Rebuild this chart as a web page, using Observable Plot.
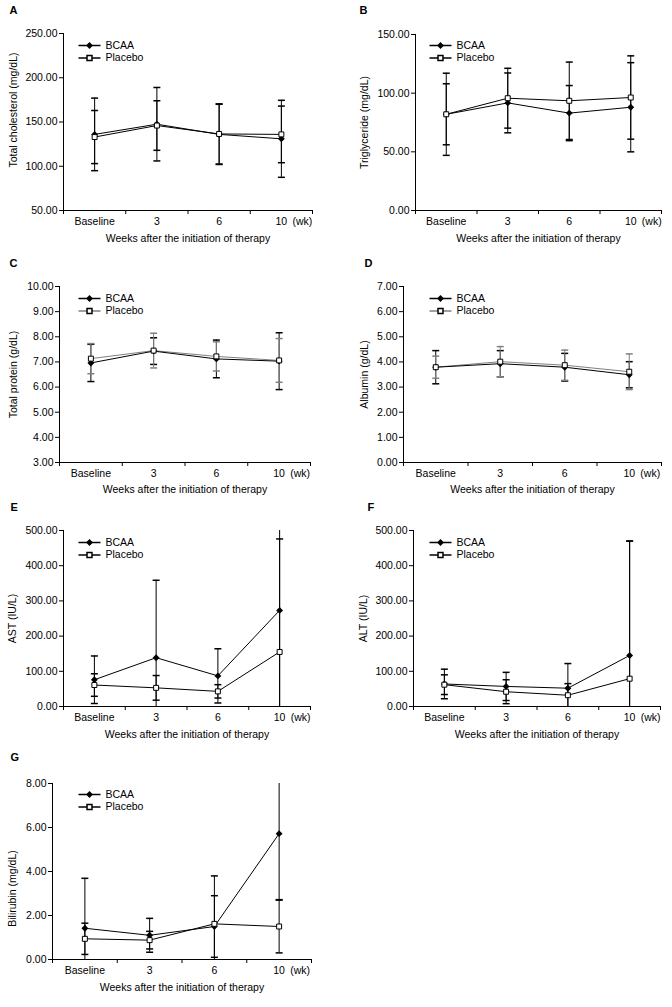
<!DOCTYPE html>
<html>
<head>
<meta charset="utf-8">
<script src="https://cdn.jsdelivr.net/npm/d3@7"></script>
<script src="https://cdn.jsdelivr.net/npm/@observablehq/plot@0.6"></script>
<style>
  html, body { margin: 0; padding: 0; background: #fff; }
  #chart { position: relative; width: 672px; height: 1007px; background: #fff; overflow: hidden; }
  #chart svg { position: absolute; }
</style>
</head>
<body>
<div id="chart"></div>
<script>
// ---------- data ----------
const weeks = ["Baseline", "3", "6", "10"];
const weekUnit = "(wk)";
const xTitle = "Weeks after the initiation of therapy";
const seriesNames = ["BCAA", "Placebo"];

// A: total cholesterol (mg/dL)
const cholBCAA = [136, 147.5, 136, 131];
const cholBCAASd = [41, 41.5, 34, 43.5];
const cholPlacebo = [133, 146, 136.5, 136];
const cholPlaceboSd = [30, 28, 34, 32];
const cholTicks = [50, 100, 150, 200, 250];

// B: triglyceride (mg/dL)
const tgBCAA = [82, 91.7, 83, 88];
const tgBCAASd = [35, 25.5, 23.5, 38];
const tgPlacebo = [82, 95.7, 93.5, 96.3];
const tgPlaceboSd = [26, 25.5, 33, 35.5];
const tgTicks = [0, 50, 100, 150];

// C: total protein (g/dL)
const tpBCAA = [6.96, 7.43, 7.12, 7.03];
const tpBCAASd = [0.74, 0.53, 0.75, 1.13];
const tpPlacebo = [7.13, 7.45, 7.22, 7.06];
const tpPlaceboSd = [0.6, 0.69, 0.58, 0.87];
const tpTicks = [3, 4, 5, 6, 7, 8, 9, 10];

// D: albumin (g/dL)
const alBCAA = [3.79, 3.93, 3.79, 3.49];
const alBCAASd = [0.66, 0.52, 0.55, 0.52];
const alPlacebo = [3.79, 4.01, 3.87, 3.61];
const alPlaceboSd = [0.44, 0.6, 0.6, 0.71];
const alTicks = [0, 1, 2, 3, 4, 5, 6, 7];

// E: AST (IU/L)
const astBCAA = [76, 138.6, 87, 273];
const astBCAASd = [67.5, 220, 77, 300];
const astPlacebo = [61, 53, 43, 155];
const astPlaceboSd = [32, 35, 19, 321];
const astTicks = [0, 100, 200, 300, 400, 500];

// F: ALT (IU/L)
const altBCAA = [64, 57, 52, 145];
const altBCAASd = [42, 40, 70, 325];
const altPlacebo = [62, 42, 32, 79];
const altPlaceboSd = [28, 34, 33, 391];
const altTicks = [0, 100, 200, 300, 400, 500];

// G: bilirubin (mg/dL)
const bilBCAA = [1.42, 1.1, 1.5, 5.72];
const bilBCAASd = [2.27, 0.77, 1.4, 3.0];
const bilPlacebo = [0.94, 0.88, 1.62, 1.5];
const bilPlaceboSd = [0.71, 0.4, 2.18, 1.2];
const bilTicks = [0, 2, 4, 6, 8];

// ---------- drawing ----------
const FONT = "'Liberation Sans', Arial, Helvetica, sans-serif";
const capSym = {draw(ctx) { ctx.moveTo(-3.5, 0); ctx.lineTo(3.5, 0); }};
const legSym = {draw(ctx) { ctx.moveTo(-11, 0); ctx.lineTo(11, 0); }};
const fmt = d3.format(".2f");

function panel(cfg) {
  const [cl, ct, cw, ch] = cfg.cell;
  const [fl, ft, fr, fb] = cfg.frame;
  const [y0, y1] = [cfg.yTicks[0], cfg.yTicks[cfg.yTicks.length - 1]];
  const pc = cfg.placeboColor || "#000";
  const rows = weeks.map((w, i) => ({
    x: i + 0.5, week: w,
    b: cfg.bcaa[i], bsd: cfg.bcaaSd[i],
    p: cfg.placebo[i], psd: cfg.placeboSd[i]
  }));
  const [lx, ly] = cfg.legend;
  const svg = Plot.plot({
    width: cw, height: ch,
    marginLeft: fl - cl, marginRight: cl + cw - fr,
    marginTop: ft - ct, marginBottom: ct + ch - fb,
    x: {domain: [0, 4], axis: null},
    y: {domain: [y0, y1], axis: null},
    style: {fontFamily: FONT, fontSize: "10.5px", color: "#000", background: "transparent"},
    marks: [
      // axes
      Plot.axisY({ticks: cfg.yTicks, tickFormat: fmt, tickSize: 4, tickPadding: 2, label: null}),
      Plot.axisX({ticks: [0, 1, 2, 3, 4], tickSize: 4, tickFormat: () => "", label: null}),
      Plot.ruleY([y0], {x1: 0, x2: 4, stroke: "#000"}),
      Plot.ruleX([0], {y1: y0, y2: y1, stroke: "#000"}),
      Plot.text(rows, {x: "x", y: () => y0, text: "week", dy: 11.5, lineAnchor: "middle"}),
      Plot.text([weekUnit], {x: () => 3.5, y: () => y0, dx: 21, dy: 11.5, lineAnchor: "middle"}),
      Plot.text([xTitle], {frameAnchor: "bottom", dy: cfg.titleDy || 28.5, lineAnchor: "middle"}),
      Plot.text([cfg.yLabel], {frameAnchor: "left", rotate: -90, dx: cfg.yLabelDx, dy: cfg.yLabelDy, lineAnchor: "middle", textAnchor: "middle"}),
      Plot.text([cfg.letter], {frameAnchor: "top-left", dx: cfg.letterPos[0], dy: cfg.letterPos[1], textAnchor: "start", lineAnchor: "middle", fontWeight: "bold", fontSize: 11}),
      // error bars
      Plot.ruleX(rows, {x: "x", y1: d => d.b - d.bsd, y2: d => d.b + d.bsd, stroke: "#000", clip: true}),
      Plot.dot(rows, {x: "x", y: d => d.b + d.bsd, symbol: capSym, stroke: "#000", fill: "none", clip: true}),
      Plot.dot(rows, {x: "x", y: d => d.b - d.bsd, symbol: capSym, stroke: "#000", fill: "none", clip: true}),
      Plot.ruleX(rows, {x: "x", y1: d => d.p - d.psd, y2: d => d.p + d.psd, stroke: pc, clip: true}),
      Plot.dot(rows, {x: "x", y: d => d.p + d.psd, symbol: capSym, stroke: pc, fill: "none", clip: true}),
      Plot.dot(rows, {x: "x", y: d => d.p - d.psd, symbol: capSym, stroke: pc, fill: "none", clip: true}),
      // lines
      Plot.line(rows, {x: "x", y: "p", stroke: pc, strokeWidth: 1}),
      Plot.line(rows, {x: "x", y: "b", stroke: "#000", strokeWidth: 1}),
      // markers
      Plot.dot(rows, {x: "x", y: "b", symbol: "diamond2", r: 3.1, fill: "#000", stroke: "none"}),
      Plot.dot(rows, {x: "x", y: "p", symbol: "square", r: 2.8, fill: "#fff", stroke: "#000", strokeWidth: 1}),
      // legend
      Plot.dot([0], {frameAnchor: "top-left", dx: lx, dy: ly, symbol: legSym, stroke: "#000", fill: "none"}),
      Plot.dot([0], {frameAnchor: "top-left", dx: lx, dy: ly, symbol: "diamond2", r: 3.1, fill: "#000", stroke: "none"}),
      Plot.text([seriesNames[0]], {frameAnchor: "top-left", dx: lx + 16, dy: ly, textAnchor: "start", lineAnchor: "middle"}),
      Plot.dot([0], {frameAnchor: "top-left", dx: lx, dy: ly + 12.5, symbol: legSym, stroke: pc, fill: "none"}),
      Plot.dot([0], {frameAnchor: "top-left", dx: lx, dy: ly + 12.5, symbol: "square", r: 2.8, fill: "#fff", stroke: "#000"}),
      Plot.text([seriesNames[1]], {frameAnchor: "top-left", dx: lx + 16, dy: ly + 12.5, textAnchor: "start", lineAnchor: "middle"})
    ]
  });
  svg.style.left = cl + "px";
  svg.style.top = ct + "px";
  document.getElementById("chart").appendChild(svg);
}

panel({letter: "A", yLabel: "Total cholesterol (mg/dL)", bcaa: cholBCAA, bcaaSd: cholBCAASd, placebo: cholPlacebo, placeboSd: cholPlaceboSd, yTicks: cholTicks,
  cell: [0, 0, 336, 250], frame: [63, 33, 312, 210], legend: [26, 12], letterPos: [-54, -23.3], yLabelDx: -50, yLabelDy: -12});
panel({letter: "B", yLabel: "Triglyceride (mg/dL)", bcaa: tgBCAA, bcaaSd: tgBCAASd, placebo: tgPlacebo, placeboSd: tgPlaceboSd, yTicks: tgTicks,
  cell: [336, 0, 336, 250], frame: [415, 34, 661, 210], legend: [25, 11], letterPos: [-56, -24.3], yLabelDx: -51, yLabelDy: 0});
panel({letter: "C", yLabel: "Total protein (g/dL)", bcaa: tpBCAA, bcaaSd: tpBCAASd, placebo: tpPlacebo, placeboSd: tpPlaceboSd, yTicks: tpTicks,
  cell: [0, 250, 336, 252], frame: [59, 286, 310, 462], legend: [30, 12], letterPos: [-50, -23], yLabelDx: -46, yLabelDy: 0, placeboColor: "#808080", titleDy: 27.5});
panel({letter: "D", yLabel: "Albumin (g/dL)", bcaa: alBCAA, bcaaSd: alBCAASd, placebo: alPlacebo, placeboSd: alPlaceboSd, yTicks: alTicks,
  cell: [336, 250, 336, 252], frame: [403, 286, 661, 462], legend: [37, 12], letterPos: [-39, -23], yLabelDx: -39, yLabelDy: 0, placeboColor: "#808080", titleDy: 27.5});
panel({letter: "E", yLabel: "AST (IU/L)", bcaa: astBCAA, bcaaSd: astBCAASd, placebo: astPlacebo, placeboSd: astPlaceboSd, yTicks: astTicks,
  cell: [0, 502, 336, 248], frame: [63, 530, 310, 706], legend: [26, 12], letterPos: [-53, -23], yLabelDx: -51, yLabelDy: 0});
panel({letter: "F", yLabel: "ALT (IU/L)", bcaa: altBCAA, bcaaSd: altBCAASd, placebo: altPlacebo, placeboSd: altPlaceboSd, yTicks: altTicks,
  cell: [336, 502, 336, 248], frame: [413, 530, 660, 706], legend: [27, 12], letterPos: [-46, -23], yLabelDx: -50, yLabelDy: 0});
panel({letter: "G", yLabel: "Bilirubin (mg/dL)", bcaa: bilBCAA, bcaaSd: bilBCAASd, placebo: bilPlacebo, placeboSd: bilPlaceboSd, yTicks: bilTicks,
  cell: [0, 750, 336, 257], frame: [52, 783, 311, 959], legend: [37, 11], letterPos: [-42, -26], yLabelDx: -40, yLabelDy: 17});
</script>
</body>
</html>
